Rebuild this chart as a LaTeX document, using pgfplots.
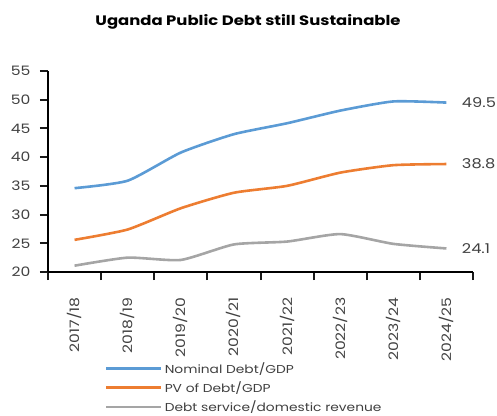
\documentclass[border=0pt]{standalone}
\usepackage{pgfplots}
\pgfplotsset{compat=1.18}
\usepackage{fontspec}
\setmainfont[FakeStretch=1.2]{Poppins}
\definecolor{cblue}{HTML}{5B9BD5}
\definecolor{corange}{HTML}{ED7D31}
\definecolor{cgray}{HTML}{A5A5A5}
\definecolor{ctext}{HTML}{404040}
\begin{document}
\begin{tikzpicture}
\useasboundingbox (-48pt,-143pt) rectangle (449pt,272pt);
\begin{axis}[
  scale only axis,
  width=425pt, height=201pt,
  xmin=-0.5, xmax=7.5,
  ymin=20, ymax=55,
  ytick={20,25,...,55},
  xtick={-0.5,0.5,...,7.5},
  xticklabels={},
  extra x ticks={0,...,7},
  extra x tick labels={2017/18,2018/19,2019/20,2020/21,2021/22,2022/23,2023/24,2024/25},
  extra x tick style={major tick length=0pt,
    xticklabel style={rotate=90, anchor=east, xshift=-22pt}},
  axis x line*=bottom, axis y line*=left,
  axis line style={line width=1.4pt, black, -},
  tick align=outside,
  major tick length=8pt,
  tick style={line width=2pt, black!90},
  /pgf/number format/assume math mode=true,
  ticklabel style={font=\fontsize{13}{15}\selectfont, text=ctext},
  yticklabel style={xshift=-6pt},
  legend style={at={(0.134,-0.438)}, anchor=north west, draw=none, fill=none,
    font=\fontsize{11.5}{13}\selectfont, text=ctext, row sep=3pt,
    inner sep=0pt},
  legend cell align=left,
  legend image code/.code={\draw[#1] (0pt,0pt) -- (55pt,0pt);},
  every axis plot/.append style={line width=2.6pt, smooth, tension=0.35},
  clip=false,
]
\addplot[cblue] coordinates {(0,34.6) (1,35.9) (2,40.8) (3,44.0) (4,45.9) (5,48.1) (6,49.7) (7,49.5)};
\addlegendentry{Nominal Debt/GDP}
\addplot[corange] coordinates {(0,25.6) (1,27.4) (2,31.1) (3,33.8) (4,35.0) (5,37.3) (6,38.6) (7,38.8)};
\addlegendentry{PV of Debt/GDP}
\addplot[cgray] coordinates {(0,21.1) (1,22.5) (2,22.1) (3,24.8) (4,25.3) (5,26.6) (6,24.9) (7,24.1)};
\addlegendentry{Debt service/domestic revenue}
\node[anchor=west, text=ctext, font=\fontsize{13.5}{15}\selectfont] at (axis cs:7,49.5) {\hspace{12pt}49.5};
\node[anchor=west, text=ctext, font=\fontsize{13.5}{15}\selectfont] at (axis cs:7,38.8) {\hspace{12pt}38.8};
\node[anchor=west, text=ctext, font=\fontsize{13.5}{15}\selectfont] at (axis cs:7,24.1) {\hspace{12pt}24.1};
\end{axis}
\node[font=\bfseries\fontsize{13.7}{15}\selectfont] at (200pt,250pt) {Uganda Public Debt still Sustainable};
\end{tikzpicture}
\end{document}
